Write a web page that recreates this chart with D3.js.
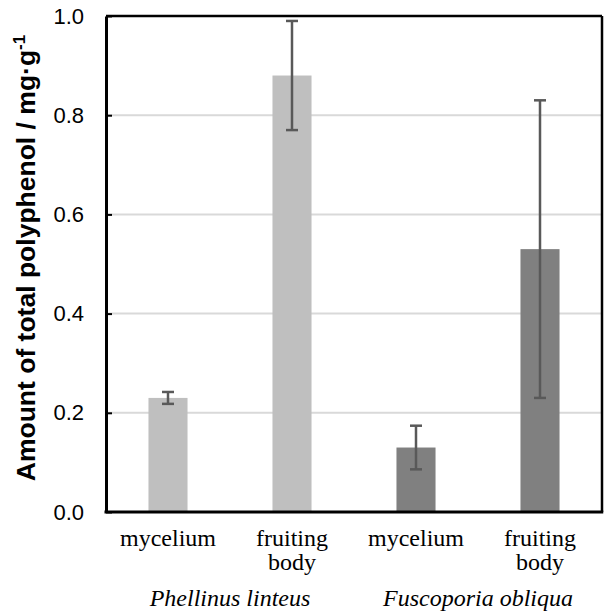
<!DOCTYPE html>
<html><head><meta charset="utf-8">
<script src="https://cdn.jsdelivr.net/npm/d3@7"></script>
<style>
body{margin:0;background:#fff}
.sans{font-family:"Liberation Sans",Arial,sans-serif}
.serif{font-family:"Liberation Serif","Times New Roman",serif}
</style>
</head><body>
<svg id="c" width="610" height="612"></svg>
<script>
const categories = ["mycelium", "fruiting body", "mycelium ", "fruiting body "];
const groups = ["Phellinus linteus", "Fuscoporia obliqua"];
const groupOf = [0, 0, 1, 1];
const values = [0.23, 0.88, 0.13, 0.53];
const errors = [0.012, 0.11, 0.044, 0.30];
const yTicks = [0.0, 0.2, 0.4, 0.6, 0.8, 1.0];
const barColors = ["#bfbfbf", "#bfbfbf", "#808080", "#808080"];

const svg = d3.select("#c");
const L = 106, R = 602, T = 16, B = 512;
const x = d3.scaleBand().domain(categories).range([L, R]).paddingInner(0.685).paddingOuter(0.3425);
const y = d3.scaleLinear().domain([0, 1]).range([B, T]);

svg.append("g").selectAll("line").data(yTicks.filter(d => d > 0 && d < 1)).join("line")
  .attr("x1", L).attr("x2", R).attr("y1", d => y(d)).attr("y2", d => y(d))
  .attr("stroke", "#d9d9d9").attr("stroke-width", 2);

svg.append("g").selectAll("rect").data(values).join("rect")
  .attr("x", (d, i) => x(categories[i])).attr("width", x.bandwidth())
  .attr("y", d => y(d)).attr("height", d => y(0) - y(d))
  .attr("fill", (d, i) => barColors[i]);

const eg = svg.append("g").attr("stroke", "#595959").attr("stroke-width", 2.5);
values.forEach((v, i) => {
  const cx = x(categories[i]) + x.bandwidth() / 2;
  eg.append("line").attr("x1", cx).attr("x2", cx).attr("y1", y(v + errors[i])).attr("y2", y(v - errors[i]));
  [v + errors[i], v - errors[i]].forEach(e => {
    eg.append("line").attr("x1", cx - 6).attr("x2", cx + 6).attr("y1", y(e)).attr("y2", y(e));
  });
});

svg.append("line").attr("x1", L).attr("x2", R).attr("y1", T).attr("y2", T).attr("stroke", "#000").attr("stroke-width", 2.5);
svg.append("line").attr("x1", R).attr("x2", R).attr("y1", T).attr("y2", B).attr("stroke", "#000").attr("stroke-width", 2.5);

const yAxis = d3.axisLeft(y).tickValues(yTicks).tickFormat(d3.format(".1f")).tickSizeInner(-6).tickSizeOuter(0).tickPadding(22);
const ya = svg.append("g").attr("transform", `translate(${L},0)`).call(yAxis).attr("font-family", null).attr("font-size", null);
ya.select(".domain").attr("stroke", "#000").attr("stroke-width", 3);
ya.selectAll(".tick line").attr("stroke", "#000").attr("stroke-width", 2);
ya.selectAll(".tick text").attr("class", "sans").style("font-size", "22px").attr("fill", "#000");

svg.append("line").attr("x1", L - 1.5).attr("x2", R + 1.25).attr("y1", B).attr("y2", B).attr("stroke", "#000").attr("stroke-width", 3);

const xl = svg.append("g").attr("class", "serif").style("font-size", "24px").attr("text-anchor", "middle").attr("fill", "#000");
categories.forEach(c => {
  const cx = x(c) + x.bandwidth() / 2;
  const words = c.trim() === "fruiting body" ? ["fruiting", "body"] : [c.trim()];
  words.forEach((w, k) => {
    xl.append("text").attr("x", cx).attr("y", 546 + k * 23.5).text(w);
  });
});
groups.forEach((g, gi) => {
  const idx = groupOf.map((v, i) => v === gi ? i : -1).filter(i => i >= 0);
  const cx = d3.mean(idx, i => x(categories[i]) + x.bandwidth() / 2);
  xl.append("text").attr("x", cx).attr("y", 606).style("font-style", "italic").text(g);
});

const t = svg.append("text").attr("class", "sans").attr("transform", `translate(35,258) rotate(-90)`)
  .attr("text-anchor", "middle").style("font-weight", "bold").style("font-size", "26.5px").attr("fill", "#000");
t.append("tspan").text("Amount of total polyphenol / mg·g");
t.append("tspan").style("font-size", "17px").attr("dy", -10).text("-1");
</script>
</body></html>
